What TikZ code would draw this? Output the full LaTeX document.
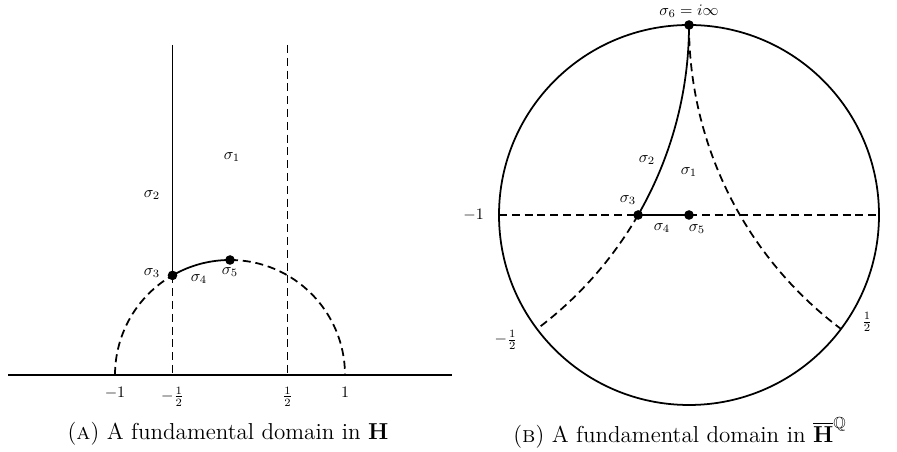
\documentclass[tikz,border=0pt]{standalone}
\usepackage{amssymb}
\begin{document}
\begin{tikzpicture}[x=0.625pt,y=0.625pt]
	\tikzset{dot/.style={circle,fill=black,inner sep=0pt,minimum size=6pt},
	         geo/.style={line width=1.1pt},
	         dgeo/.style={line width=1.1pt,dash pattern=on 5pt off 3pt},
	         capt/.style={anchor=base,font=\Large}}
	\useasboundingbox (0,0) rectangle (897,452);
	% upper half plane
	\coordinate (axl) at (8,77);
	\coordinate (axr) at (452,77);
	\coordinate (m1) at (115,77);
	\coordinate (mh) at (172.5,77);
	\coordinate (ph) at (287.5,77);
	\coordinate (p1) at (345,77);
	\coordinate (tl) at (172.5,407);
	\coordinate (tr) at (287.5,407);
	\coordinate (a3) at (172.5,176.6);
	\coordinate (a5) at (230,192);
	\draw[geo] (axl)--(axr);
	\draw[geo] (tl)--(a3);
	\draw[dgeo] (a3)--(mh);
	\draw[dgeo] (tr)--(ph);
	\draw[dgeo] (m1) arc[start angle=180,end angle=120,radius=115];
	\draw[geo] (a3) arc[start angle=120,end angle=90,radius=115];
	\draw[dgeo] (a5) arc[start angle=90,end angle=0,radius=115];
	\node[dot] at (a3) {}; \node[dot] at (a5) {};
	\node[below=4pt] at (m1) {$-1$};
	\node[below=4pt] at (mh) {$-\frac{1}{2}$};
	\node[below=4pt] at (ph) {$\frac{1}{2}$};
	\node[below=4pt] at (p1) {$1$};
	\node at (232,295) {$\sigma_1$};
	\node at (152,257) {$\sigma_2$};
	\node at (152,179) {$\sigma_3$};
	\node at (199,173) {$\sigma_4$};
	\node at (230,180) {$\sigma_5$};
	\node[capt] at (228,12) {(\textsc{a}) A fundamental domain in $\mathbf{H}$};
	% disc model
	\coordinate (c) at (689,237);
	\coordinate (w) at (499,237);
	\coordinate (e) at (879,237);
	\coordinate (b6) at (689,427);
	\coordinate (b3) at (638.1,237);
	\coordinate (b5) at (689,237);
	\coordinate (bm) at (537,123);
	\coordinate (bp) at (841,123);
	\draw[geo] (c) circle[radius=190];
	\draw[dgeo] (w)--(b3);
	\draw[dgeo] (b5)--(e);
	\draw[geo] (b3)--(b5);
	\draw[geo] (b6) arc[start angle=0,end angle=-30,radius=380];
	\draw[dgeo] (b3) arc[start angle=-30,end angle=-53.13,radius=380];
	\draw[dgeo] (b6) arc[start angle=180,end angle=233.13,radius=380];
	\node[dot] at (b6) {}; \node[dot] at (b3) {}; \node[dot] at (b5) {};
	\node[above=1pt] at (b6) {$\sigma_6=i\infty$};
	\node[left=6pt] at (w) {$-1$};
	\node at (506,112) {$-\frac{1}{2}$};
	\node at (867,130) {$\frac{1}{2}$};
	\node at (689,280) {$\sigma_1$};
	\node at (647,292) {$\sigma_2$};
	\node at (628,252) {$\sigma_3$};
	\node at (662,224) {$\sigma_4$};
	\node at (697,223) {$\sigma_5$};
	\node[capt] at (680,9) {(\textsc{b}) A fundamental domain in $\overline{\mathbf{H}}^{\mathbb{Q}}$};
\end{tikzpicture}
\end{document}
